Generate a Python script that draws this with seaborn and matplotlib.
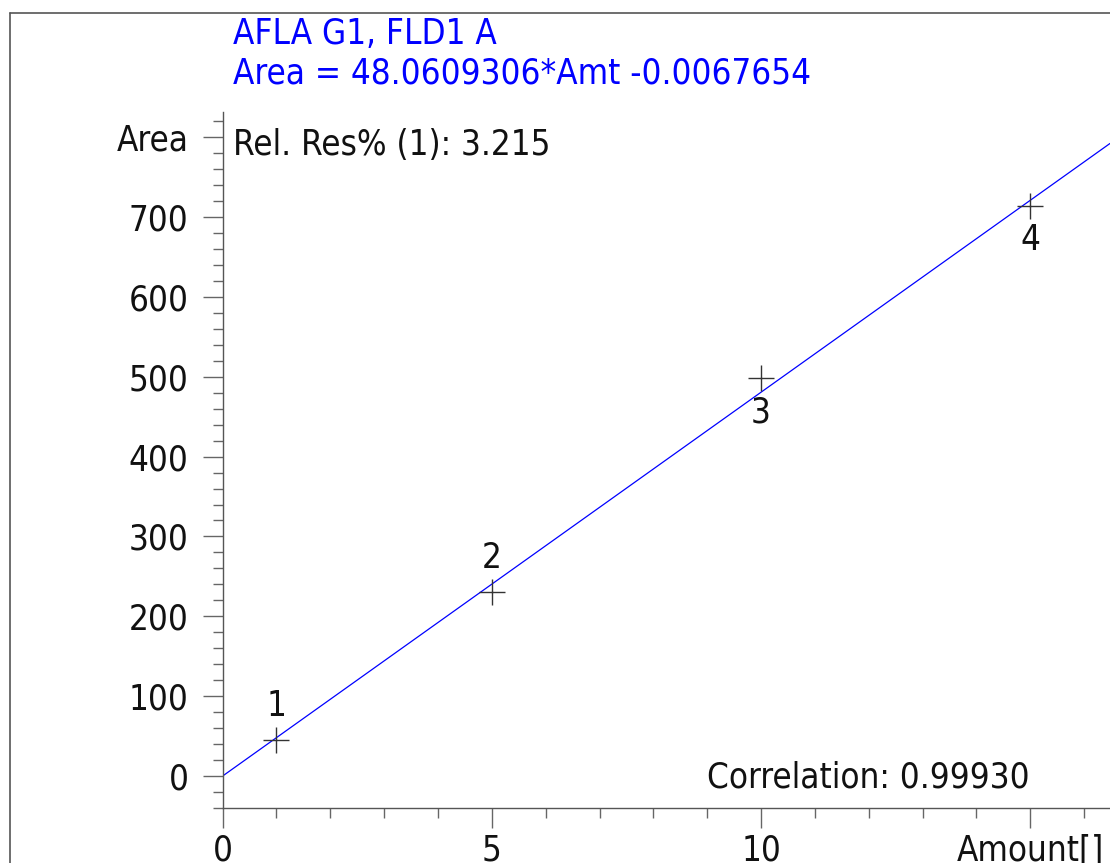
import matplotlib
matplotlib.use("Agg")
import matplotlib.pyplot as plt
import seaborn as sns
import pandas as pd
from matplotlib.ticker import MultipleLocator
from matplotlib.lines import Line2D

# -------------------------------
# Calibration data
# -------------------------------
amounts = [1, 5, 10, 15]
areas = [45, 230, 498, 714]
level_names = ["1", "2", "3", "4"]
label_side = [1, 1, -1, -1]  # 1 = label above point, -1 = below

slope = 48.0609306
intercept = -0.0067654
signal_name = "AFLA G1, FLD1 A"
equation = "Area = 48.0609306*Amt -0.0067654"
rel_res = "Rel. Res% (1): 3.215"
correlation = "Correlation: 0.99930"

y_ticks = [0, 100, 200, 300, 400, 500, 600, 700, 800]
y_tick_labels = ["0", "100", "200", "300", "400", "500", "600", "700", "Area"]
x_ticks = [0, 5, 10, 15]
x_tick_labels = ["0", "5", "10", "Amount[]"]

x_max = 16.48
y_min, y_max = -40, 831.4

sns.set_style("white")
plt.rcParams["font.family"] = ["DejaVu Sans"]
plt.rcParams["font.stretch"] = "condensed"
FS = 25

fig = plt.figure(figsize=(11.1, 8.63), dpi=100)
ax = fig.add_axes([0.2005, 0.0637, 0.7995, 0.8065])

# outer frame of the printout (left and top edges visible)
fig.add_artist(Line2D([10 / 1110, 10 / 1110], [0, 1 - 13 / 863], transform=fig.transFigure,
                      color="#555555", lw=1.2))
fig.add_artist(Line2D([10 / 1110, 1], [1 - 13 / 863, 1 - 13 / 863], transform=fig.transFigure,
                      color="#555555", lw=1.2))

# calibration line
line_df = pd.DataFrame({"amt": [0, x_max]})
line_df["area"] = slope * line_df["amt"] + intercept
sns.lineplot(data=line_df, x="amt", y="area", color="#0000ff", lw=0.9, ax=ax)

# calibration points
pts = pd.DataFrame({"amt": amounts, "area": areas})
sns.scatterplot(data=pts, x="amt", y="area", marker="+", s=330, color="#333333",
                linewidth=1.0, ax=ax, zorder=3)

for a, v, name, side in zip(amounts, areas, level_names, label_side):
    ax.annotate(name, (a, v), xytext=(0, 34 * side), textcoords="offset pixels",
                ha="center", va="center", fontsize=FS, color="#111111")

ax.set_xlim(0, x_max)
ax.set_ylim(y_min, y_max)
ax.set_xlabel("")
ax.set_ylabel("")

ax.set_yticks(y_ticks)
ax.set_yticklabels(y_tick_labels)
ax.set_xticks(x_ticks)
ax.set_xticklabels(x_tick_labels)
ax.yaxis.set_minor_locator(MultipleLocator(20))
ax.xaxis.set_minor_locator(MultipleLocator(1))

ax.tick_params(axis="y", which="both", left=True, direction="out", width=1, color="#666666")
ax.tick_params(axis="x", which="both", bottom=True, direction="out", width=1, color="#666666")
ax.tick_params(axis="y", which="major", length=14.5, pad=10, labelsize=FS, labelcolor="#111111")
ax.tick_params(axis="y", which="minor", length=7)
ax.tick_params(axis="x", which="major", length=14.5, pad=4, labelsize=FS, labelcolor="#111111")
ax.tick_params(axis="x", which="minor", length=7)

for side in ["top", "right"]:
    ax.spines[side].set_visible(False)
for side in ["left", "bottom"]:
    ax.spines[side].set_color("#555555")
    ax.spines[side].set_linewidth(1.0)

# header and annotations
fig.text(233 / 1110, 1 - 34 / 863, signal_name, color="#0000ff", fontsize=FS,
         ha="left", va="center")
fig.text(233 / 1110, 1 - 73 / 863, equation, color="#0000ff", fontsize=FS,
         ha="left", va="center")
fig.text(233 / 1110, 1 - 145 / 863, rel_res, color="#111111", fontsize=FS,
         ha="left", va="center")
fig.text(1030 / 1110, 1 - 777 / 863, correlation, color="#111111", fontsize=FS,
         ha="right", va="center")

plt.savefig("out.png", dpi=100)
plt.close()
